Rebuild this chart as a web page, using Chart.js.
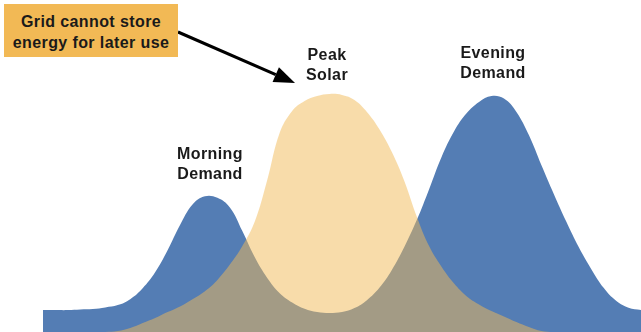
<!DOCTYPE html>
<html>
<head>
<meta charset="utf-8">
<script src="https://cdn.jsdelivr.net/npm/chart.js@4/dist/chart.umd.min.js"></script>
<style>
  html, body { margin: 0; padding: 0; background: #fff; }
  #wrap { position: relative; width: 641px; height: 332px; overflow: hidden; }
  canvas { position: absolute; left: 0; top: 0; }
  .lbl { position: absolute; font-family: "Liberation Sans", Arial, sans-serif; font-weight: bold;
         font-size: 16px; line-height: 20px; color: #1a1a1a; text-align: center; white-space: nowrap;
         letter-spacing: 0.4px; transform: translateX(-50%); }
  #note { position: absolute; left: 4px; top: 4px; width: 174px; height: 53px; background: #f2b955; }
</style>
</head>
<body>
<div id="wrap">
  <canvas id="c" width="641" height="332"></canvas>
  <div id="note"></div>
  <div class="lbl" style="left:91px; top:11px; line-height:21px;">Grid cannot store<br>energy for later use</div>
  <div class="lbl" style="left:327px; top:45px;">Peak<br>Solar</div>
  <div class="lbl" style="left:493px; top:43px;">Evening<br>Demand</div>
  <div class="lbl" style="left:210px; top:144px;">Morning<br>Demand</div>
</div>
<script>
// Hour of day (half-hour steps)
const hours = [0,0.5,1,1.5,2,2.5,3,3.5,4,4.5,5,5.5,6,6.5,7,7.5,8,8.5,9,9.5,10,10.5,11,11.5,12,
               12.5,13,13.5,14,14.5,15,15.5,16,16.5,17,17.5,18,18.5,19,19.5,20,20.5,21,21.5,22,22.5,23,23.5,24];
// Electricity demand (relative units)
const demand = [6.6,6.6,6.6,6.8,6.9,7.4,8.1,9.9,13.2,18.0,24.6,32.2,38.4,40.9,40.4,37.5,30.4,22.5,16.3,11.7,8.9,7.0,6.0,5.7,6.0,
                7.2,9.6,13.3,18.7,25.6,33.7,43.1,52.8,60.5,65.9,69.3,71.1,70.3,66.3,59.3,50.3,41.6,33.3,25.6,19.0,13.3,9.4,7.3,6.6];
// Solar generation (relative units)
const solar = [0,0,0,0,0,0,0.3,1.2,2.7,4.2,6.0,7.7,9.9,12.3,15.7,20.3,25.9,33.3,45.8,60.0,66.6,69.6,71.1,71.7,71.4,
               69.9,66.3,61.1,54.2,45.5,34.8,25.8,19.6,14.6,10.8,8.3,6.3,4.7,3.0,1.5,0.3,0,0,0,0,0,0,0,0];

const arrowPlugin = {
  id: 'arrow',
  afterDraw(chart) {
    const ctx = chart.ctx;
    const x0 = 178, y0 = 32, x1 = 295, y1 = 83;
    const ang = Math.atan2(y1 - y0, x1 - x0);
    const len = 21, half = 8;
    const bx = x1 - len * Math.cos(ang), by = y1 - len * Math.sin(ang);
    ctx.save();
    ctx.strokeStyle = '#000';
    ctx.fillStyle = '#000';
    ctx.lineWidth = 3;
    ctx.beginPath();
    ctx.moveTo(x0, y0);
    ctx.lineTo(bx, by);
    ctx.stroke();
    ctx.beginPath();
    ctx.moveTo(x1, y1);
    ctx.lineTo(bx + half * Math.sin(ang), by - half * Math.cos(ang));
    ctx.lineTo(bx - half * Math.sin(ang), by + half * Math.cos(ang));
    ctx.closePath();
    ctx.fill();
    ctx.restore();
  }
};

new Chart(document.getElementById('c'), {
  type: 'line',
  data: {
    labels: hours,
    datasets: [
      { label: 'Solar', data: solar, order: 1, fill: 'origin',
        backgroundColor: 'rgba(241,185,85,0.5)', borderWidth: 0, pointRadius: 0,
        tension: 0.4 },
      { label: 'Demand', data: demand, order: 2, fill: 'origin',
        backgroundColor: '#547db4', borderWidth: 0, pointRadius: 0,
        tension: 0.4 }
    ]
  },
  options: {
    responsive: false,
    animation: false,
    layout: { padding: { left: 43, right: 0, top: 0, bottom: 0 } },
    plugins: { legend: { display: false }, tooltip: { enabled: false } },
    scales: {
      x: { type: 'linear', min: 0, max: 24, display: false },
      y: { min: 0, max: 100, display: false }
    }
  },
  plugins: [arrowPlugin]
});
</script>
</body>
</html>
